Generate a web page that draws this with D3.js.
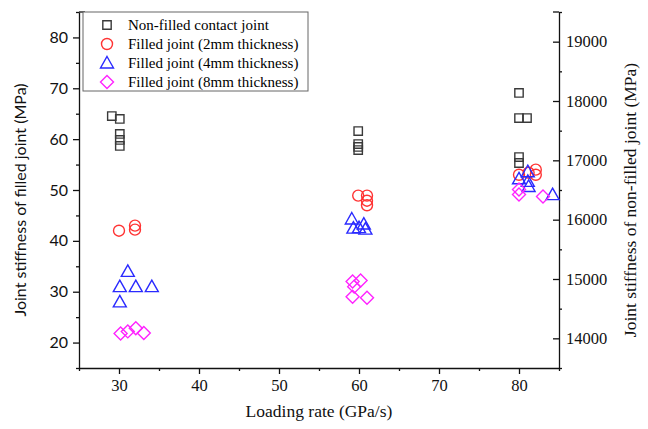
<!DOCTYPE html>
<html><head><meta charset="utf-8">
<script src="https://cdn.jsdelivr.net/npm/d3@7"></script>
<style>body{margin:0;background:#fff}</style>
</head><body>
<svg id="c" width="648" height="429"></svg>
<script>
// Data (x = loading rate GPa/s)
const nonFilledX = [29.1, 30.1, 30.1, 30.1, 30.1, 59.9, 59.9, 59.9, 59.9, 80.0, 80.0, 81.0, 80.0, 80.0];
const nonFilledY = [17747, 17697, 17444, 17343, 17242, 17494, 17275, 17225, 17174, 18135, 17713, 17713, 17056, 16955];
const mm2X = [30.0, 32.0, 32.0, 59.9, 61.0, 61.0, 61.0, 80.0, 81.2, 82.1, 82.1];
const mm2Y = [42.0, 43.0, 42.2, 48.9, 48.9, 47.9, 47.0, 53.0, 53.4, 54.0, 53.0];
const mm4X = [31.1, 30.1, 32.1, 34.1, 30.1, 59.1, 60.6, 59.3, 60.0, 60.8, 81.1, 80.0, 81.1, 81.2, 84.2];
const mm4Y = [34.0, 31.0, 31.0, 31.0, 28.0, 44.3, 43.3, 42.5, 42.6, 42.3, 53.6, 52.2, 51.7, 50.7, 49.1];
const mm8X = [30.2, 31.1, 32.1, 33.1, 59.2, 60.2, 59.4, 59.2, 61.0, 80.0, 80.0, 83.0];
const mm8Y = [21.8, 22.2, 22.8, 21.9, 32.0, 32.2, 31.0, 29.0, 28.8, 50.1, 49.1, 48.7];
const xTicks = [30, 40, 50, 60, 70, 80];
const yLeftTicks = [20, 30, 40, 50, 60, 70, 80];
const yRightTicks = [14000, 15000, 16000, 17000, 18000, 19000];
const legendLabels = ["Non-filled contact joint", "Filled joint (2mm thickness)", "Filled joint (4mm thickness)", "Filled joint (8mm thickness)"];

const svg = d3.select("#c");
const L = 79, R = 559, T = 12, B = 368;
const x = d3.scaleLinear().domain([25, 85]).range([L, R]);
const yL = d3.scaleLinear().domain([15, 85]).range([B, T]);
const yR = d3.scaleLinear().domain([13500, 19500]).range([B, T]);
const serif = "'Liberation Serif','Times New Roman',serif";
const sans = "Lato,'Open Sans',sans-serif";

// Bottom axis
const gx = svg.append("g").attr("transform", `translate(0,${B})`)
  .call(d3.axisBottom(x).tickValues(xTicks).tickSize(6).tickSizeOuter(0).tickPadding(5));
svg.append("g").attr("transform", `translate(0,${B})`)
  .call(d3.axisBottom(x).tickValues(d3.range(25, 86, 10)).tickSize(3).tickFormat("").tickSizeOuter(0))
  .select(".domain").remove();
gx.selectAll("text").attr("font-family", serif).attr("font-size", 16.5).attr("fill", "#111");

// Left axis
const gl = svg.append("g").attr("transform", `translate(${L},0)`)
  .call(d3.axisLeft(yL).tickValues(yLeftTicks).tickSize(6).tickSizeOuter(0).tickPadding(5));
svg.append("g").attr("transform", `translate(${L},0)`)
  .call(d3.axisLeft(yL).tickValues(d3.range(15, 86, 10)).tickSize(3).tickFormat("").tickSizeOuter(0))
  .select(".domain").remove();
gl.selectAll("text").attr("font-family", sans).attr("font-size", 16).attr("fill", "#111");

// Right axis (ticks inward)
const gr = svg.append("g").attr("transform", `translate(${R},0)`)
  .call(d3.axisRight(yR).tickValues(yRightTicks).tickSize(0).tickSizeOuter(0).tickPadding(7).tickFormat(d3.format("d")));
gr.selectAll(".tick").append("line").attr("x1", 0).attr("x2", -6).attr("stroke", "#111");
svg.append("g").attr("transform", `translate(${R},0)`)
  .call(d3.axisLeft(yR).tickValues(d3.range(13500, 19501, 1000)).tickSize(-3).tickFormat("").tickSizeOuter(0))
  .select(".domain").remove();
gr.selectAll("text").attr("font-family", serif).attr("font-size", 16.5).attr("fill", "#111");

svg.selectAll(".domain, .tick line").attr("stroke", "#111").attr("stroke-width", 1.3);

// top end stubs
svg.append("line").attr("x1", L).attr("x2", L + 6).attr("y1", T).attr("y2", T).attr("stroke", "#111").attr("stroke-width", 1.3);
svg.append("line").attr("x1", R).attr("x2", R - 6).attr("y1", T).attr("y2", T).attr("stroke", "#111").attr("stroke-width", 1.3);

// Titles
svg.append("text").attr("x", (L + R) / 2).attr("y", 417).attr("text-anchor", "middle")
  .attr("font-family", serif).attr("font-size", 17.5).attr("fill", "#111").text("Loading rate (GPa/s)");
svg.append("text").attr("transform", `translate(26,${(T + B) / 2 + 10}) rotate(-90)`).attr("text-anchor", "middle")
  .attr("font-family", sans).attr("font-size", 16).attr("fill", "#111").text("Joint stiffness of filled joint (MPa)");
svg.append("text").attr("transform", `translate(636,${(T + B) / 2 + 10}) rotate(-90)`).attr("text-anchor", "middle")
  .attr("font-family", serif).attr("font-size", 17.5).attr("fill", "#111").text("Joint stiffness of non-filled joint (MPa)");

// Marker drawing
const colors = ["#3a3a3a", "#ff3333", "#2a2aff", "#ff22ff"];
const symTypes = [d3.symbolSquare, d3.symbolCircle];
const symSizes = [70, 95];
function marker(g, i) {
  if (i === 3) {
    g.append("path").attr("d", "M0,-6.5L6.5,0L0,6.5L-6.5,0Z");
  } else if (i === 2) {
    g.append("path").attr("d", "M0,-6.5L6.5,5L-6.5,5Z");
  } else {
    g.append("path").attr("d", d3.symbol(symTypes[i], symSizes[i])());
  }
  g.selectAll("path").attr("fill", "none").attr("stroke", colors[i]).attr("stroke-width", 1.4);
}
function plot(xs, ys, sc, i) {
  xs.forEach((xv, k) => {
    const g = svg.append("g").attr("transform", `translate(${x(xv)},${sc(ys[k])})`);
    marker(g, i);
  });
}
plot(nonFilledX, nonFilledY, yR, 0);
plot(mm2X, mm2Y, yL, 1);
plot(mm4X, mm4Y, yL, 2);
plot(mm8X, mm8Y, yL, 3);

// Legend
svg.append("rect").attr("x", 83).attr("y", T).attr("width", 225).attr("height", 79)
  .attr("fill", "#fff").attr("stroke", "#666").attr("stroke-width", 1);
legendLabels.forEach((lab, i) => {
  const yy = 25 + i * 19;
  const g = svg.append("g").attr("transform", `translate(107,${yy})`);
  marker(g, i);
  svg.append("text").attr("x", 128).attr("y", yy + 5).attr("font-family", serif).attr("font-size", 15)
    .attr("fill", "#000").text(lab);
});
</script>
</body></html>
